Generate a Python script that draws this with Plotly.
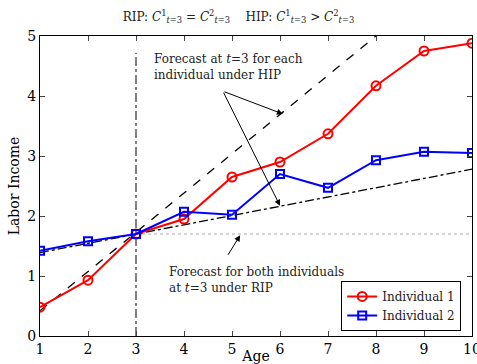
import plotly.graph_objects as go

age = [1, 2, 3, 4, 5, 6, 7, 8, 9, 10]
income_1 = [0.48, 0.93, 1.70, 1.95, 2.65, 2.90, 3.37, 4.17, 4.75, 4.88]
income_2 = [1.42, 1.58, 1.70, 2.07, 2.02, 2.70, 2.47, 2.93, 3.07, 3.05]

hip1_x = [1, 8.0]
hip1_y = [0.42, 5.0]
hip2_x = [1, 10]
hip2_y = [1.39, 2.78]
rip_x = [3, 10]
rip_y = [1.70, 1.70]
vline_x = [3, 3]
vline_y = [0, 4.72]

FONT = "DejaVu Serif"

fig = go.Figure()
fig.add_trace(go.Scatter(x=rip_x, y=rip_y, mode="lines", showlegend=False,
                         line=dict(color="#aaaaaa", width=1, dash="dot"), hoverinfo="skip"))
fig.add_trace(go.Scatter(x=vline_x, y=vline_y, mode="lines", showlegend=False,
                         line=dict(color="black", width=1, dash="dashdot"), hoverinfo="skip"))
fig.add_trace(go.Scatter(x=hip1_x, y=hip1_y, mode="lines", showlegend=False,
                         line=dict(color="black", width=1.3, dash="dash"), hoverinfo="skip"))
fig.add_trace(go.Scatter(x=hip2_x, y=hip2_y, mode="lines", showlegend=False,
                         line=dict(color="black", width=1.3, dash="dashdot"), hoverinfo="skip"))
fig.add_trace(go.Scatter(x=age, y=income_1, mode="lines+markers", name="Individual 1",
                         line=dict(color="#ff0000", width=2),
                         marker=dict(symbol="circle-open", size=9, color="#ff0000",
                                     line=dict(width=2, color="#ff0000"))))
fig.add_trace(go.Scatter(x=age, y=income_2, mode="lines+markers", name="Individual 2",
                         line=dict(color="#0000ff", width=2),
                         marker=dict(symbol="square-open", size=8, color="#0000ff",
                                     line=dict(width=2, color="#0000ff"))))

# HIP annotation
fig.add_annotation(x=3.33, y=4.48, xref="x", yref="y", showarrow=False,
                   text="Forecast at <i>t</i>=3 for each<br>individual under HIP",
                   xanchor="left", yanchor="middle", align="left",
                   font=dict(family=FONT, size=12, color="#222"))
for hx, hy in [(6.06, 3.70), (6.0, 2.17)]:
    fig.add_annotation(x=hx, y=hy, ax=4.81, ay=4.08, xref="x", yref="y",
                       axref="x", ayref="y", text="", showarrow=True,
                       arrowhead=2, arrowsize=1.2, arrowwidth=1, arrowcolor="black")
# RIP annotation
fig.add_annotation(x=3.65, y=0.93, xref="x", yref="y", showarrow=False,
                   text="Forecast for both individuals<br>at <i>t</i>=3 under RIP",
                   xanchor="left", yanchor="middle", align="left",
                   font=dict(family=FONT, size=12, color="#222"))
fig.add_annotation(x=5.17, y=1.68, ax=4.90, ay=1.33, xref="x", yref="y",
                   axref="x", ayref="y", text="", showarrow=True,
                   arrowhead=2, arrowsize=1.2, arrowwidth=1, arrowcolor="black")

fig.update_layout(
    width=477, height=364,
    margin=dict(l=40, r=5, t=36, b=28, autoexpand=False),
    paper_bgcolor="white", plot_bgcolor="white",
    font=dict(family=FONT, size=14, color="black"),
    title=dict(text="RIP: <i>C</i><sup>1</sup><sub><i>t</i>=3</sub> = <i>C</i><sup>2</sup><sub><i>t</i>=3</sub>"
                    "    HIP: <i>C</i><sup>1</sup><sub><i>t</i>=3</sub> &gt; <i>C</i><sup>2</sup><sub><i>t</i>=3</sub>",
               x=0.5, xanchor="center", y=0.955, yanchor="middle",
               font=dict(family=FONT, size=12, color="#222")),
    legend=dict(x=0.975, y=0.017, xanchor="right", yanchor="bottom",
                bordercolor="black", borderwidth=1, bgcolor="white",
                font=dict(family=FONT, size=12, color="#222"),
                tracegroupgap=0, itemwidth=30),
    showlegend=True,
)
fig.update_xaxes(range=[1, 10], tickvals=age, ticks="inside", ticklen=5,
                 showgrid=False, zeroline=False, showline=True, linecolor="black",
                 linewidth=1, mirror="ticks", automargin=False,
                 ticklabeloverflow="allow",
                 title=dict(text="Age", standoff=6, font=dict(family=FONT, size=14)))
fig.update_yaxes(range=[0, 5], tickvals=[0, 1, 2, 3, 4, 5], ticks="inside", ticklen=5,
                 showgrid=False, zeroline=False, showline=True, linecolor="black",
                 linewidth=1, mirror="ticks", automargin=False,
                 ticklabeloverflow="allow",
                 title=dict(text="Labor Income", standoff=4, font=dict(family=FONT, size=14)))

fig.write_html("out.html")
